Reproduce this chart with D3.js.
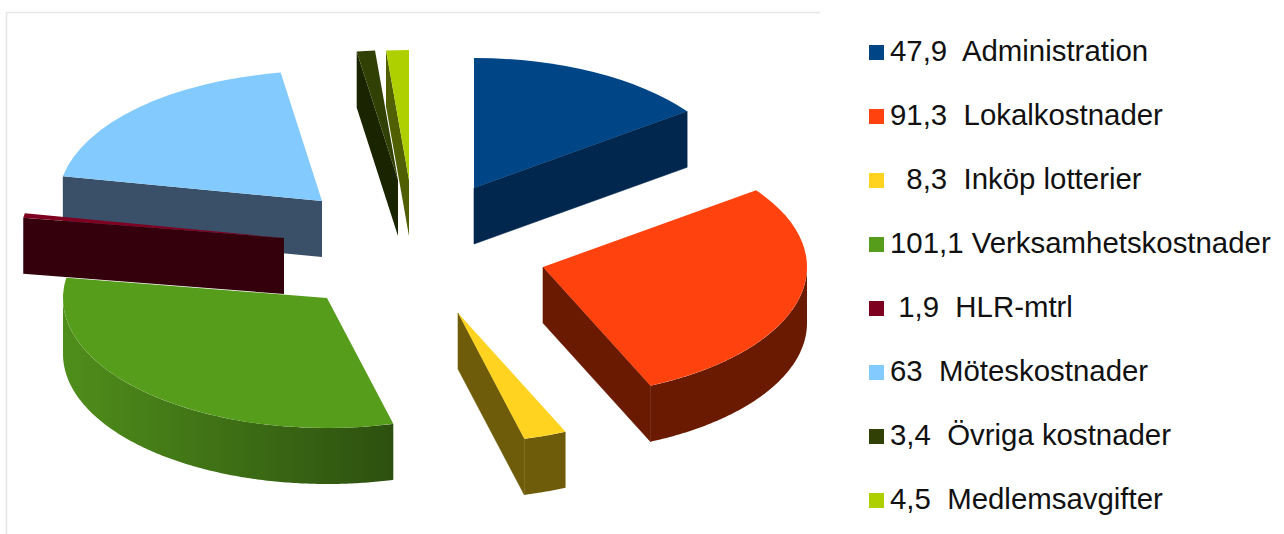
<!DOCTYPE html>
<html>
<head>
<meta charset="utf-8">
<script src="https://cdnjs.cloudflare.com/ajax/libs/d3/7.8.5/d3.min.js"></script>
<style>
	html, body { margin: 0; background: #fff; }
	text { font-family: "Liberation Sans", Arial, sans-serif; font-size: 29.4px; fill: #111; white-space: pre; }
</style>
</head>
<body>
<svg id="chart" width="1284" height="534"></svg>
<script>
// legend, as printed in the picture
var categories = [ 'Administration', 'Lokalkostnader', 'Inköp lotterier', 'Verksamhetskostnader', 'HLR-mtrl', 'Möteskostnader', 'Övriga kostnader', 'Medlemsavgifter' ];
var amounts = [ '47,9  ', '91,3  ', '  8,3  ', '101,1 ', ' 1,9  ', '63  ', '3,4  ', '4,5  ' ];

var sliceValues = [ 49.6, 94.1, 8.75, 104.6, 1.85, 64.5, 3.7, 4.6 ];

var topColors = [ '#004586', '#ff420e', '#ffd320', '#579d1c', '#7e0021', '#83caff', '#314004', '#aecf00' ];
var wallColors = [ '#02274e', '#6a1a00', '#6f5c0a', '#4f8e1b', '#34000c', '#3a5068', '#1a2500', '#506000' ];
var wallEndColors = [ '#02274e', '#6a1a00', '#6f5c0a', '#2d500f', '#34000c', '#3a5068', '#1a2500', '#506000' ];

// how far each slice is pulled out of the pie, and painting order (back to front)
var explode = [ [ 74, -52 ], [ 143, 27 ], [ 58, 73 ], [ -73, 58 ], [ -116, -2 ], [ -78, -39 ], [ -2, -60 ], [ 9, -60 ] ];
var drawOrder = [ 5, 4, 7, 6, 0, 1, 2, 3 ];

var size = { cx: 400, cy: 240, rx: 264, ry: 130, depth: 56 };
var legend = { swatchX: 869, swatch: 15, textX: 890, top: 52.5, step: 64 };

var svg = d3.select( '#chart' );
var defs = svg.append( 'defs' );

// frame left over from the original plot area
svg.append( 'path' )
	.attr( 'd', 'M820,12.5H6.5V534' )
	.attr( 'fill', 'none' )
	.attr( 'stroke', '#e6e6e6' )
	.attr( 'stroke-width', 1.5 );

var pie = d3.pie().sort( null ).value( function ( d ) { return d; } );
var slices = pie( sliceValues );

var topArc = d3.arc().innerRadius( 0 ).outerRadius( size.rx );
var tilt = size.ry / size.rx;

var wallArea = d3.area()
	.x( function ( d ) { return size.rx * Math.sin( d ); } )
	.y0( function ( d ) { return -size.ry * Math.cos( d ); } )
	.y1( function ( d ) { return -size.ry * Math.cos( d ) + size.depth; } );

function radialWall( a ) {
	var x = size.rx * Math.sin( a ), y = -size.ry * Math.cos( a );
	return d3.line()( [ [ 0, 0 ], [ x, y ], [ x, y + size.depth ], [ 0, size.depth ] ] ) + 'Z';
}

drawOrder.forEach( function ( i ) {
	var s = slices[i];
	var g = svg.append( 'g' )
		.attr( 'transform', 'translate(' + ( size.cx + explode[i][0] ) + ',' + ( size.cy + explode[i][1] ) + ')' );

	// flat walls along the cut edges that face the viewer
	if ( Math.sin( s.startAngle ) < -1e-6 ) {
		g.append( 'path' ).attr( 'd', radialWall( s.startAngle ) ).attr( 'fill', wallColors[i] );
	}
	if ( Math.sin( s.endAngle ) > 1e-6 ) {
		g.append( 'path' ).attr( 'd', radialWall( s.endAngle ) )
			.attr( 'fill', wallEndColors[i] )
			.attr( 'stroke', wallEndColors[i] )
			.attr( 'stroke-width', 0.6 );
	}

	// curved outer wall, only on the front half
	var a0 = Math.max( s.startAngle, Math.PI / 2 ), a1 = Math.min( s.endAngle, Math.PI * 1.5 );
	if ( a1 > a0 ) {
		var id = 'wall' + i;
		var grad = defs.append( 'linearGradient' ).attr( 'id', id )
			.attr( 'gradientUnits', 'userSpaceOnUse' )
			.attr( 'x1', size.rx * Math.sin( a1 ) ).attr( 'x2', size.rx * Math.sin( a0 ) )
			.attr( 'y1', 0 ).attr( 'y2', 0 );
		grad.append( 'stop' ).attr( 'offset', 0 ).attr( 'stop-color', wallColors[i] );
		grad.append( 'stop' ).attr( 'offset', 1 ).attr( 'stop-color', wallEndColors[i] );
		var angles = d3.range( a0, a1, 0.01 ).concat( [ a1 ] );
		g.append( 'path' ).attr( 'd', wallArea( angles ) ).attr( 'fill', 'url(#' + id + ')' );
	}

	g.append( 'path' )
		.attr( 'd', topArc( s ) )
		.attr( 'transform', 'scale(1,' + tilt + ')' )
		.attr( 'fill', topColors[i] );
} );

var rows = svg.selectAll( 'g.legend-row' )
	.data( categories )
	.enter().append( 'g' )
	.attr( 'class', 'legend-row' )
	.attr( 'transform', function ( d, i ) { return 'translate(0,' + ( legend.top + i * legend.step ) + ')'; } );

rows.append( 'rect' )
	.attr( 'x', legend.swatchX )
	.attr( 'y', -legend.swatch / 2 )
	.attr( 'width', legend.swatch )
	.attr( 'height', legend.swatch )
	.attr( 'fill', function ( d, i ) { return topColors[i]; } );

rows.append( 'text' )
	.attr( 'x', legend.textX )
	.attr( 'y', 8 )
	.attr( 'xml:space', 'preserve' )
	.text( function ( d, i ) { return amounts[i] + d; } );
</script>
</body>
</html>
